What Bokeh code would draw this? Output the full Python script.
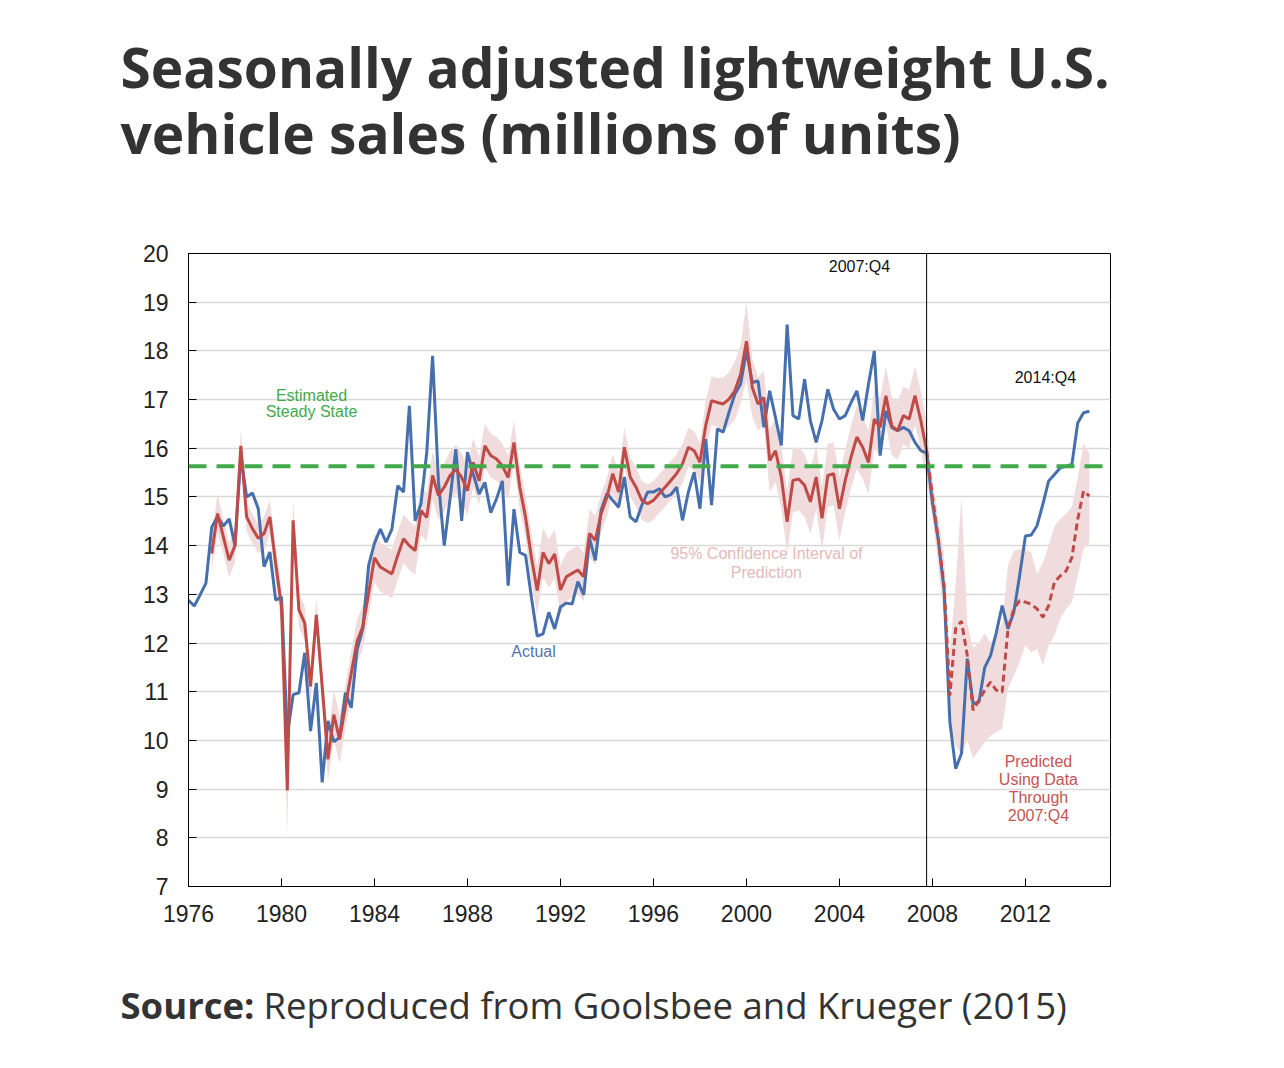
import numpy as np
from bokeh.plotting import figure
from bokeh.layouts import column
from bokeh.models import Span, Label, FixedTicker, Range1d
from bokeh.core.properties import value
from bokeh.embed import file_html
from bokeh.resources import INLINE

# Quarterly light-vehicle sales, SAAR, millions of units, 1976:Q1 - 2014:Q4
start_year = 1976
actual = [
    12.88, 12.76, 12.99, 13.23, 14.38, 14.60, 14.40, 14.55, 14.00, 15.85,
    15.00, 15.08, 14.76, 13.57, 13.87, 12.88, 12.95, 10.10, 10.94, 10.98,
    11.80, 10.19, 11.18, 9.14, 10.40, 9.97, 10.06, 10.98, 10.67, 11.86,
    12.30, 13.60, 14.05, 14.34, 14.07, 14.34, 15.23, 15.10, 16.87, 14.51,
    14.86, 15.92, 17.90, 15.33, 14.00, 14.96, 15.98, 14.51, 15.92, 15.47,
    15.06, 15.30, 14.68, 14.96, 15.33, 13.18, 14.75, 13.86, 13.80, 12.94,
    12.14, 12.19, 12.63, 12.29, 12.74, 12.82, 12.80, 13.26, 12.99, 14.15,
    13.70, 14.73, 15.07, 14.93, 14.79, 15.41, 14.59, 14.49, 14.83, 15.10,
    15.10, 15.17, 15.00, 15.05, 15.20, 14.52, 15.10, 15.51, 14.76, 16.19,
    14.83, 16.40, 16.33, 16.74, 17.11, 17.32, 18.00, 17.35, 17.38, 16.43,
    17.18, 16.63, 16.06, 18.54, 16.67, 16.60, 17.42, 16.57, 16.12, 16.57,
    17.21, 16.80, 16.60, 16.67, 16.94, 17.18, 16.57, 17.32, 18.00, 15.85,
    16.77, 16.43, 16.36, 16.43, 16.36, 16.12, 15.95, 15.90, 14.88, 14.13,
    13.10, 10.38, 9.42, 9.73, 11.68, 10.75, 10.79, 11.50, 11.74, 12.22,
    12.77, 12.29, 12.63, 13.38, 14.20, 14.22, 14.41, 14.85, 15.33, 15.46,
    15.60, 15.63, 15.67, 16.52, 16.73, 16.76,
]

# Model prediction, 1977:Q1 - 2007:Q4 (in-sample)
pred_start = 4
predicted = [
    13.84, 14.66, 14.18, 13.70, 14.00, 16.05, 14.59, 14.35, 14.15, 14.25,
    14.59, 13.63, 12.75, 8.97, 14.52, 12.68, 12.41, 11.11, 12.58, 11.11,
    9.61, 10.53, 10.02, 10.70, 11.38, 12.03, 12.34, 13.02, 13.75, 13.56,
    13.49, 13.42, 13.80, 14.14, 14.00, 13.90, 14.72, 14.58, 15.44, 15.03,
    15.20, 15.44, 15.57, 15.40, 15.13, 15.71, 15.33, 16.05, 15.85, 15.78,
    15.64, 15.40, 16.12, 15.20, 14.58, 13.76, 13.08, 13.86, 13.63, 13.83,
    13.09, 13.36, 13.43, 13.50, 13.36, 14.25, 14.11, 14.66, 15.00, 15.48,
    15.10, 16.02, 15.41, 15.20, 14.93, 14.86, 14.93, 15.07, 15.20, 15.34,
    15.48, 15.68, 16.02, 15.95, 15.71, 16.47, 16.98, 16.94, 16.91, 17.01,
    17.18, 17.52, 18.20, 17.25, 16.91, 17.04, 15.75, 15.95, 15.41, 14.49,
    15.34, 15.37, 15.24, 14.90, 15.41, 14.56, 15.44, 15.48, 14.76, 15.34,
    15.82, 16.23, 16.02, 15.71, 16.60, 16.43, 17.08, 16.46, 16.36, 16.67,
    16.60, 17.08, 16.57, 15.95,
]
# Half-width of the 95% interval for the in-sample prediction
pred_halfwidth = (
    [0.35, 0.40, 0.35, 0.35, 0.35, 0.35]
    + [0.30, 0.30, 0.30, 0.35, 0.35, 0.35, 0.40]
    + [0.90, 0.45]
    + [0.35] * 5
    + [0.45, 0.50, 0.50, 0.45]
    + [0.45] * 4
    + [0.50] * 19
    + [0.45] * 8
    + [0.50] * 12
    + [0.40] * 18
    + [0.50, 0.50, 0.50, 0.55, 0.55, 0.60, 0.60]
    + [0.80]
    + [0.60, 0.55, 0.55]
    + [0.65] * 18
    + [0.60] * 10
)

# Out-of-sample forecast using data through 2007:Q4 (2008:Q1 - 2014:Q4)
forecast = [
    15.02, 14.13, 13.18, 10.92, 12.30, 12.45, 11.74, 10.62, 10.82, 11.03,
    11.20, 11.03, 10.99, 12.29, 12.70, 12.87, 12.84, 12.80, 12.70, 12.53,
    12.77, 13.25, 13.38, 13.48, 13.76, 14.54, 15.12, 15.02,
]
forecast_low = [
    14.60, 13.60, 12.50, 10.30, 9.90, 9.70, 10.00, 9.63, 9.80, 9.97,
    10.10, 10.17, 10.24, 11.06, 11.33, 11.60, 11.95, 11.81, 11.88, 11.54,
    11.95, 12.15, 12.50, 12.70, 12.84, 13.38, 13.93, 14.07,
]
forecast_high = [
    15.35, 14.60, 13.80, 11.80, 13.20, 15.00, 12.40, 11.90, 12.00, 12.20,
    12.00, 12.20, 12.40, 13.60, 13.90, 13.92, 13.93, 13.86, 13.42, 13.65,
    14.00, 14.40, 14.55, 14.65, 14.80, 15.40, 16.10, 15.90,
]

steady_state = 15.63
break_quarter = 2007.75
x_ticks = [1976, 1980, 1984, 1988, 1992, 1996, 2000, 2004, 2008, 2012]
y_ticks = list(range(7, 21))

title_lines = ["Seasonally adjusted lightweight U.S.",
               "vehicle sales (millions of units)"]
source_head = "Source:"
source_body = "Reproduced from Goolsbee and Krueger (2015)"

BLUE = "#4670ad"
RED = "#bf4b48"
BAND = "#f0dcdc"
GREEN = "#43aa4b"
INK = "#333333"

W = 1284
HEAD_H, MAIN_H, FOOT_H = 200, 760, 108


def text_panel(height):
    """A bare, axis-free figure used as a text strip; units are pixels,
    y grows downward."""
    f = figure(width=W, height=height, x_range=Range1d(0, W),
               y_range=Range1d(height, 0), output_backend="svg",
               toolbar_location=None, min_border=0,
               x_axis_location=None, y_axis_location=None,
               frame_align=False)
    f.grid.visible = False
    f.outline_line_color = None
    f.background_fill_color = "white"
    f.border_fill_color = "white"
    return f


# ---- heading --------------------------------------------------------------
head = text_panel(HEAD_H)
head.text(x=[120, 120], y=[66, 132], text=title_lines,
          text_font=value("Open Sans"), text_font_style="bold",
          text_font_size="55px", text_color=INK, text_baseline="alphabetic")

# ---- chart ----------------------------------------------------------------
t_all = start_year + 0.25 * np.arange(len(actual))
t_pred = t_all[pred_start:pred_start + len(predicted)]
t_fc = t_all[pred_start + len(predicted):]

pred = np.array(predicted)
hw = np.array(pred_halfwidth)
band_t = np.concatenate([t_pred, t_fc])
band_lo = np.concatenate([pred - hw, forecast_low])
band_hi = np.concatenate([pred + hw, forecast_high])

p = figure(
    width=W, height=MAIN_H,
    x_range=(1976, 2015.66), y_range=(7, 20),
    output_backend="svg", toolbar_location=None,
    min_border_left=188, min_border_right=174,
    min_border_top=53, min_border_bottom=74,
    frame_align=False,
)
p.background_fill_color = "white"
p.border_fill_color = "white"
p.outline_line_color = "black"
p.outline_line_width = 1

p.xgrid.grid_line_color = None
p.ygrid.grid_line_color = "#d9d9d9"
p.ygrid.grid_line_width = 1.5

for ax in (p.xaxis, p.yaxis):
    ax.axis_line_color = "black"
    ax.axis_line_width = 1
    ax.major_tick_in = 8
    ax.major_tick_out = 0
    ax.minor_tick_line_color = None
    ax.major_tick_line_color = "black"
    ax.major_label_text_font = "Liberation Sans"
    ax.major_label_text_font_size = "23px"
    ax.major_label_text_color = "#222222"
p.xaxis.ticker = FixedTicker(ticks=x_ticks)
p.yaxis.ticker = FixedTicker(ticks=y_ticks)
p.xaxis.major_label_standoff = 18
p.yaxis.major_label_standoff = 20

# Confidence band, then the reference lines and series on top
p.varea(x=band_t, y1=band_lo, y2=band_hi, fill_color=BAND, fill_alpha=1)

p.add_layout(Span(location=steady_state, dimension="width", line_color=GREEN,
                  line_width=4, line_dash="18 10"))
p.add_layout(Span(location=break_quarter, dimension="height",
                  line_color="black", line_width=1))

p.line(t_all, actual, line_color=BLUE, line_width=3)
p.line(t_pred, predicted, line_color=RED, line_width=3)
p.line(np.concatenate([[t_pred[-1]], t_fc]),
       np.concatenate([[predicted[-1]], forecast]),
       line_color=RED, line_width=3, line_dash="7 4")


def note(x, y, text, color, size="16px"):
    p.add_layout(Label(x=x, y=y, text=text, text_color=color,
                       text_font="Liberation Sans", text_font_size=size,
                       text_align="center", text_baseline="middle"))


note(2004.86, 19.73, "2007:Q4", "#111111")
note(2012.86, 17.45, "2014:Q4", "#111111")
note(1981.29, 17.08, "Estimated", GREEN)
note(1981.29, 16.75, "Steady State", GREEN)
note(1990.84, 11.83, "Actual", "#5474ad")
note(2000.86, 13.84, "95% Confidence Interval of", "#e6b9b9")
note(2000.86, 13.45, "Prediction", "#e6b9b9")
for k, line in enumerate(["Predicted", "Using Data", "Through", "2007:Q4"]):
    note(2012.56, 9.57 - 0.37 * k, line, "#c25553")

# ---- source line ----------------------------------------------------------
foot = text_panel(FOOT_H)
foot.text(x=[120], y=[44], text=[source_head], text_font=value("Open Sans"),
          text_font_style="bold", text_font_size="36.5px", text_color=INK,
          text_baseline="alphabetic")
foot.text(x=[263], y=[44], text=[source_body], text_font=value("Open Sans"),
          text_font_size="36.5px", text_color=INK, text_baseline="alphabetic")

page = column(head, p, foot, spacing=0)
open("out.html", "w").write(file_html(page, INLINE))
